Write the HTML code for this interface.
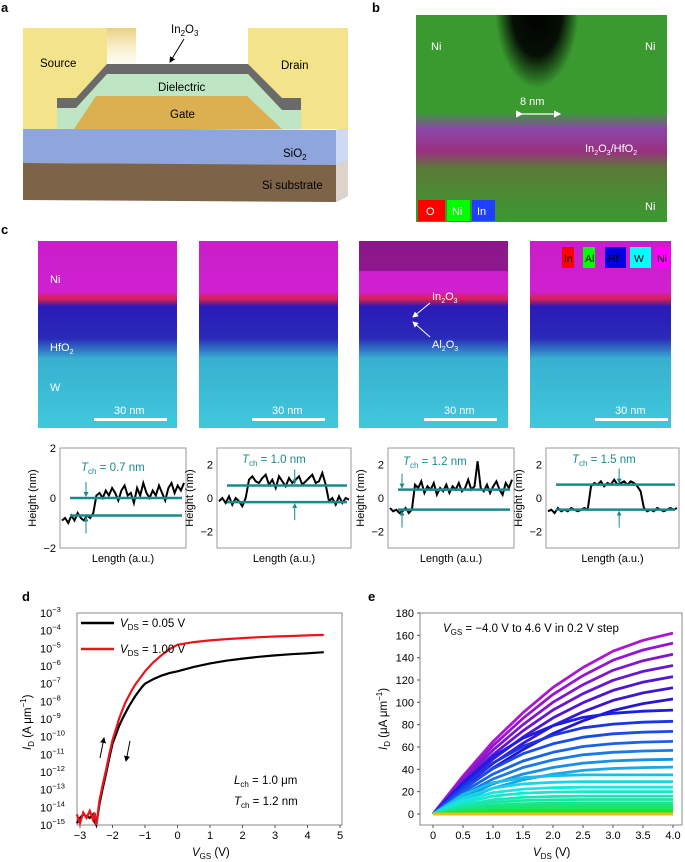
<!DOCTYPE html>
<html><head><meta charset="utf-8">
<style>
html,body{margin:0;padding:0;background:#fff;}
svg{display:block;font-family:"Liberation Sans",Arial,sans-serif;}
.pl{font-weight:bold;font-size:13px;fill:#000;}
.t{font-size:11.5px;fill:#000;}
.w{font-size:11px;fill:#fff;}
.tk{font-size:11px;fill:#000;}
</style></head>
<body>
<svg id="fig" width="685" height="862" viewBox="0 0 685 862" xmlns="http://www.w3.org/2000/svg">
<defs>
<linearGradient id="gC" x1="0" y1="0" x2="0" y2="1">
<stop offset="0" stop-color="#c81ec8"/><stop offset="0.27" stop-color="#d020d0"/><stop offset="0.31" stop-color="#d82050"/>
<stop offset="0.35" stop-color="#2a1ab8"/><stop offset="0.52" stop-color="#2a2ab8"/><stop offset="0.63" stop-color="#38b0d0"/><stop offset="1" stop-color="#40c8dc"/>
</linearGradient>
<linearGradient id="gB" x1="0" y1="0" x2="0" y2="1">
<stop offset="0" stop-color="#3a9a30"/><stop offset="0.47" stop-color="#3a9a30"/><stop offset="0.55" stop-color="#8a48a8"/>
<stop offset="0.66" stop-color="#9a3080"/><stop offset="0.74" stop-color="#5a7a38"/><stop offset="1" stop-color="#3a9a30"/>
</linearGradient>
<radialGradient id="gDark" cx="0.5" cy="0.3" r="0.5">
<stop offset="0" stop-color="#000"/><stop offset="0.6" stop-color="#000" stop-opacity="0.9"/><stop offset="1" stop-color="#000" stop-opacity="0"/>
</radialGradient>
<clipPath id="clipB"><rect x="416" y="15" width="251" height="207"/></clipPath>
<linearGradient id="gStrip" x1="0" y1="0" x2="0" y2="1"><stop offset="0" stop-color="#e8d080"/><stop offset="1" stop-color="#fff8d8" stop-opacity="0.3"/></linearGradient>
<marker id="ah" markerWidth="6" markerHeight="6" refX="5" refY="3" orient="auto"><path d="M0,0 L6,3 L0,6 z" fill="#000"/></marker>
<marker id="ahw" markerWidth="6" markerHeight="6" refX="5" refY="3" orient="auto"><path d="M0,0 L6,3 L0,6 z" fill="#fff"/></marker>
<marker id="aht" markerWidth="5" markerHeight="5" refX="4" refY="2.5" orient="auto"><path d="M0,0 L5,2.5 L0,5 z" fill="#1a8a8a"/></marker>
</defs>

<text class="pl" x="1" y="12">a</text>
<text class="pl" x="372" y="12">b</text>
<text class="pl" x="1" y="234">c</text>
<text class="pl" x="22" y="601">d</text>
<text class="pl" x="368" y="601">e</text>

<g>
<polygon points="23,200 336,202 348,196 348,164 336,164 23,163" fill="#7d6348"/>
<polygon points="336,164 348,158 348,196 336,202" fill="#dcd4cc"/>
<polygon points="23,128 336,130 348,124 348,160 336,165 23,163" fill="#8ea6dc"/>
<polygon points="336,130 348,124 348,160 336,165" fill="#cfdaf2"/>
<rect x="23" y="28" width="84" height="101" fill="#f3e38a"/>
<rect x="107" y="28" width="29" height="38" fill="url(#gStrip)"/>
<rect x="248" y="28" width="100" height="101" fill="#f3e38a"/>
<polygon points="57,108 57,129 301,129 301,110 282,110 248,74 107,74 76,108" fill="#bfe6c4"/>
<polygon points="96,96 247,96 282,129 74,129" fill="#dcb050"/>
<polygon points="57,98 76,98 107,64 248,64 282,98 301,98 301,110 282,110 248,74 107,74 76,108 57,108" fill="#6a6a6a"/>
<text class="t" x="40" y="67">Source</text>
<text class="t" x="281" y="69">Drain</text>
<text class="t" x="158" y="91">Dielectric</text>
<text class="t" x="170" y="118">Gate</text>
<text class="t" x="283" y="157">SiO<tspan font-size="8" dy="3">2</tspan></text>
<text class="t" x="262" y="189">Si substrate</text>
<text class="t" x="171" y="33">In<tspan font-size="8" dy="3">2</tspan><tspan dy="-3">O</tspan><tspan font-size="8" dy="3">3</tspan></text>
<line x1="184" y1="39" x2="170" y2="62" stroke="#000" stroke-width="1" marker-end="url(#ah)"/>
</g>

<g>
<rect x="416" y="15" width="251" height="207" fill="url(#gB)"/>
<g clip-path="url(#clipB)">
<ellipse cx="537" cy="40" rx="42" ry="80" fill="url(#gDark)"/>
</g>
<text class="w" x="431" y="50">Ni</text><text class="w" x="645" y="50">Ni</text><text class="w" x="645" y="210">Ni</text>
<text class="w" x="520" y="105">8 nm</text>
<line x1="522" y1="114" x2="560" y2="114" stroke="#fff" stroke-width="1.2" marker-end="url(#ahw)" marker-start="url(#ahw)"/>
<text class="w" x="585" y="152" font-size="10.5">In<tspan font-size="7" dy="3">2</tspan><tspan dy="-3">O</tspan><tspan font-size="7" dy="3">3</tspan><tspan dy="-3">/HfO</tspan><tspan font-size="7" dy="3">2</tspan></text>
<rect x="418" y="200" width="27" height="21" fill="#f00"/>
<rect x="447" y="200" width="23" height="21" fill="#0f0"/>
<rect x="472" y="200" width="23" height="21" fill="#2040ff"/>
<text class="w" x="426" y="215">O</text><text class="w" x="452" y="215">Ni</text><text class="w" x="477" y="215">In</text>
</g>

<g>
<rect x="38" y="241" width="139" height="187" fill="url(#gC)"/>
<rect x="199" y="241" width="139" height="187" fill="url(#gC)"/>
<rect x="359" y="241" width="149" height="187" fill="url(#gC)"/>
<rect x="359" y="241" width="149" height="30" fill="#401040" opacity="0.45"/>
<rect x="530" y="241" width="141" height="187" fill="url(#gC)"/>
<text class="w" x="50" y="283">Ni</text>
<text class="w" x="50" y="351">HfO<tspan font-size="7" dy="3">2</tspan></text>
<text class="w" x="50" y="391">W</text>
<text class="w" x="432" y="300">In<tspan font-size="7" dy="3">2</tspan><tspan dy="-3">O</tspan><tspan font-size="7" dy="3">3</tspan></text>
<line x1="430" y1="303" x2="413" y2="317" stroke="#fff" marker-end="url(#ahw)"/>
<text class="w" x="432" y="348">Al<tspan font-size="7" dy="3">2</tspan><tspan dy="-3">O</tspan><tspan font-size="7" dy="3">3</tspan></text>
<line x1="430" y1="337" x2="413" y2="322" stroke="#fff" marker-end="url(#ahw)"/>
<g font-size="10.5">
<text class="w" x="114" y="414">30 nm</text><text class="w" x="272" y="414">30 nm</text>
<text class="w" x="444" y="414">30 nm</text><text class="w" x="615" y="414">30 nm</text>
</g>
<rect x="94" y="418" width="73" height="3" fill="#fff"/><rect x="252" y="418" width="73" height="3" fill="#fff"/>
<rect x="424" y="418" width="73" height="3" fill="#fff"/><rect x="595" y="418" width="73" height="3" fill="#fff"/>
<rect x="562" y="247" width="12" height="21" fill="#f00"/><rect x="583" y="247" width="12" height="21" fill="#0f0"/>
<rect x="605" y="247" width="21" height="21" fill="#0000e0"/><rect x="630" y="247" width="21" height="21" fill="#0ff"/>
<rect x="655" y="247" width="15" height="21" fill="#f0f"/>
<g font-size="10.5"><text x="564" y="262">In</text><text x="585" y="262">Al</text><text x="608" y="262">Hf</text><text x="634" y="262">W</text><text x="657" y="262">Ni</text></g>
</g>

<g id="afm"></g>
<g id="chartD"></g>
<g id="chartE"></g>
</svg>

<script>
const afmP1 = [-0.9,-0.8,-1.0,-0.7,-0.9,-0.6,-0.8,-0.9,-0.7,-0.8,-0.6,0.1,0.2,0.0,0.3,0.1,0.4,0.2,-0.1,0.3,0.5,0.1,0.2,-0.2,0.4,0.1,0.6,0.2,0.0,0.3,0.1,0.5,0.2,-0.1,0.4,0.6,0.2,0.5,0.3,0.6];
const afmP2 = [-0.2,0.0,-0.3,0.1,-0.4,0.0,-0.2,-0.5,0.0,1.1,1.3,1.0,0.9,1.2,1.4,0.8,1.1,0.6,1.3,1.0,0.7,1.2,0.9,1.1,1.3,0.8,1.0,1.2,1.4,0.9,1.0,1.5,0.8,-0.2,0.0,-0.4,0.1,-0.3,0.0,-0.1];
const afmP3 = [-0.6,-0.8,-0.7,-0.9,-0.8,-0.6,-0.9,-0.7,0.8,0.6,1.0,0.3,0.7,0.5,0.9,0.2,0.6,0.4,0.8,0.3,0.7,0.5,0.9,0.4,0.6,1.1,0.5,0.7,2.2,0.6,0.4,0.8,0.3,0.7,1.0,0.5,0.2,0.9,0.6,1.1];
const afmP4 = [-0.8,-0.7,-0.9,-0.6,-0.8,-0.7,-0.8,-0.6,-0.7,-0.8,-0.7,-0.6,-0.7,0.7,0.9,0.8,1.0,0.7,0.9,0.8,1.1,0.8,0.9,1.0,0.8,1.0,0.9,0.7,0.4,-0.6,-0.8,-0.7,-0.8,-0.6,-0.7,-0.8,-0.7,-0.6,-0.7,-0.6];
const afmUpper = [0, 0.75, 0.5, 0.8];
const afmLower = [-0.7, -0.25, -0.7, -0.7];
const afmTch = ["0.7", "1.0", "1.2", "1.5"];
const afmTicks1 = [-2, 0, 2];
const afmTicks2 = [-2, 0, 2];

const dVgs = [-3.1,-3.0,-2.9,-2.8,-2.7,-2.6,-2.55,-2.5,-2.4,-2.3,-2.2,-2.1,-2.0,-1.9,-1.8,-1.7,-1.6,-1.5,-1.4,-1.3,-1.2,-1.1,-1.0,-0.75,-0.5,-0.25,0,0.5,1,1.5,2,2.5,3,3.5,4,4.5];
const dBlackLog = [-14.9,-14.6,-14.4,-14.5,-14.6,-14.4,-14.8,-15.0,-13.8,-12.9,-12.1,-11.2,-10.4,-9.9,-9.4,-9.0,-8.65,-8.3,-8.0,-7.7,-7.45,-7.2,-7.0,-6.75,-6.55,-6.4,-6.3,-6.05,-5.85,-5.7,-5.58,-5.48,-5.4,-5.33,-5.28,-5.22];
const dRedLog = [-14.4,-14.9,-14.3,-14.6,-14.2,-14.7,-14.3,-15.0,-13.6,-12.7,-11.9,-11.0,-10.2,-9.6,-9.0,-8.5,-8.05,-7.7,-7.35,-7.05,-6.8,-6.55,-6.3,-5.8,-5.4,-5.05,-4.8,-4.65,-4.55,-4.48,-4.42,-4.37,-4.33,-4.3,-4.27,-4.24];
const dXTicks = [-3,-2,-1,0,1,2,3,4,5];
const dYTicks = [-3,-4,-5,-6,-7,-8,-9,-10,-11,-12,-13,-14,-15];

const eEndValues = [0,0,0,0,0,0,0,0,0,0,0,0,0,0,0,0.2,0.5,1,2,3,4,6,8,10,13,16,20,24,29,35,42,49,57,65,74,83,93,103,113,123,133,143,153,162];
const eVds = [0,0.5,1,1.5,2,2.5,3,3.5,4];
const eShapeHigh = [0,0.21,0.40,0.56,0.70,0.81,0.90,0.96,1.0];
const eShapeMid = [0,0.30,0.55,0.73,0.85,0.93,0.97,0.99,1.0];
const eShapeLow = [0,0.50,0.80,0.93,0.98,1.0,1.0,1.0,1.0];
const eXTicks = [0,0.5,1.0,1.5,2.0,2.5,3.0,3.5,4.0];
const eYTicks = [0,20,40,60,80,100,120,140,160,180];

const NS = "http://www.w3.org/2000/svg";
function mk(tag, parent) { const e = document.createElementNS(NS, tag); parent.appendChild(e); return e; }
function sub(txt, parent, x, y, main, s, rest, cls, italic) {
  const t = mk('text', parent); t.setAttribute('x', x); t.setAttribute('y', y);
  t.setAttribute('font-size', '11.5');
  const a = document.createElementNS(NS, 'tspan'); a.textContent = main; if (italic) a.setAttribute('font-style', 'italic'); t.appendChild(a);
  const b = document.createElementNS(NS, 'tspan'); b.textContent = s; b.setAttribute('font-size', '8'); b.setAttribute('dy', '3'); t.appendChild(b);
  const c = document.createElementNS(NS, 'tspan'); c.textContent = rest; c.setAttribute('dy', '-3'); t.appendChild(c);
  return t;
}

(function(){
  const g = document.getElementById('afm');
  const plots = [afmP1, afmP2, afmP3, afmP4];
  const boxX = [60, 217, 388, 546], boxW = [126, 134, 126, 133];
  const ranges = [2, 3, 3, 3];
  const tickSets = [afmTicks1, afmTicks2, afmTicks2, afmTicks2];
  const top = 448, h = 100, teal = "#1a8a8a";
  for (let k = 0; k < 4; k++) {
    const x0 = boxX[k], w = boxW[k], R = ranges[k];
    const yS = v => top + h/2 - v * (h/2) / R;
    const xS = i => x0 + 2 + i * (w - 4) / (plots[k].length - 1);
    const box = mk('rect', g);
    
    
    box.setAttribute('x', x0); box.setAttribute('y', top); box.setAttribute('width', w); box.setAttribute('height', h);
    box.setAttribute('fill', 'none'); box.setAttribute('stroke', '#999'); box.setAttribute('stroke-width', '1');
    tickSets[k].forEach(v => {
      const t = mk('text', g);
      
      
      t.setAttribute('x', x0 - 4); t.setAttribute('y', yS(v) + 4); t.setAttribute('text-anchor', 'end'); t.setAttribute('font-size', '11');
      t.textContent = v < 0 ? '\u2212' + Math.abs(v) : String(v);
    });
    const yl = mk('text', g);
    
    
    yl.setAttribute('transform', `translate(${x0 - 24},${top + h/2}) rotate(-90)`);
    yl.setAttribute('text-anchor', 'middle'); yl.setAttribute('font-size', '11'); yl.textContent = 'Height (nm)';
    const xl = mk('text', g);
    
    
    xl.setAttribute('x', x0 + w/2); xl.setAttribute('y', top + h + 14); xl.setAttribute('text-anchor', 'middle'); xl.setAttribute('font-size', '11');
    xl.textContent = 'Length (a.u.)';
    const pts = plots[k].map((v, i) => xS(i).toFixed(1) + ',' + yS(v).toFixed(1)).join(' ');
    const line = mk('polyline', g);
    
    
    line.setAttribute('points', pts); line.setAttribute('fill', 'none'); line.setAttribute('stroke', '#000'); line.setAttribute('stroke-width', '2');
    [afmUpper[k], afmLower[k]].forEach((v, j) => {
      const l = mk('line', g);
      
      
      l.setAttribute('x1', x0 + 10); l.setAttribute('x2', x0 + w - 4); l.setAttribute('y1', yS(v)); l.setAttribute('y2', yS(v));
      l.setAttribute('stroke', teal); l.setAttribute('stroke-width', '2.5');
    });
    const ax = x0 + (k === 0 ? 26 : (k === 3 ? w * 0.55 : (k === 2 ? 14 : w * 0.58)));
    const a1 = mk('line', g);
    
    
    a1.setAttribute('x1', ax); a1.setAttribute('x2', ax); a1.setAttribute('y1', yS(afmUpper[k]) - 16); a1.setAttribute('y2', yS(afmUpper[k]) - 2);
    a1.setAttribute('stroke', teal); a1.setAttribute('marker-end', 'url(#aht)');
    const a2 = mk('line', g);
    
    
    a2.setAttribute('x1', ax); a2.setAttribute('x2', ax); a2.setAttribute('y1', yS(afmLower[k]) + 18); a2.setAttribute('y2', yS(afmLower[k]) + 2);
    a2.setAttribute('stroke', teal); a2.setAttribute('marker-end', 'url(#aht)');
    const lx = [81, 242, 403, 572][k], ly = [471, 463, 465, 463][k];
    const tl = sub(null, g, lx, ly, 'T', 'ch', ' = ' + afmTch[k] + ' nm', null, true);
    tl.setAttribute('fill', teal);
    
    
  }
})();

(function(){
  const g = document.getElementById('chartD');
  const L = 77, R = 342, T = 613, B = 825;
  const xD = v => 80 + (v + 3) * 32.5;
  const yD = lg => T + (-3 - lg) * (B - T) / 12;
  const fr = mk('rect', g);
  
  
  fr.setAttribute('x', L); fr.setAttribute('y', T); fr.setAttribute('width', R - L); fr.setAttribute('height', B - T);
  fr.setAttribute('fill', 'none'); fr.setAttribute('stroke', '#888');
  dXTicks.forEach(v => {
    const tk = mk('line', g);
    
    
    tk.setAttribute('x1', xD(v)); tk.setAttribute('x2', xD(v)); tk.setAttribute('y1', B); tk.setAttribute('y2', B + 3); tk.setAttribute('stroke', '#555');
    const t = mk('text', g);
    
    
    t.setAttribute('x', xD(v)); t.setAttribute('y', B + 14); t.setAttribute('text-anchor', 'middle'); t.setAttribute('class', 'tk');
    t.textContent = v < 0 ? '\u2212' + Math.abs(v) : String(v);
  });
  dYTicks.forEach(v => {
    const t = mk('text', g);
    
    
    t.setAttribute('x', 40); t.setAttribute('y', yD(v) + 4); t.setAttribute('font-size', '11');
    t.textContent = '10';
    const s = document.createElementNS(NS, 'tspan'); s.setAttribute('font-size', '7.5'); s.setAttribute('dy', '-5');
    s.textContent = '\u2212' + Math.abs(v); t.appendChild(s);
  });
  function curve(arr, color, name) {
    const p = mk('polyline', g);
    
    
    p.setAttribute('points', dVgs.map((v, i) => xD(v).toFixed(1) + ',' + Math.min(B, yD(arr[i])).toFixed(1)).join(' '));
    p.setAttribute('fill', 'none'); p.setAttribute('stroke', color); p.setAttribute('stroke-width', '2.2');
  }
  curve(dBlackLog, '#000', 'series-vds-0.05');
  curve(dRedLog, '#e8161a', 'series-vds-1.00');
  [['#000', 623, '0.05'], ['#e8161a', 649, '1.00']].forEach(([c, y, v]) => {
    const l = mk('line', g);
    
    
    l.setAttribute('x1', 81); l.setAttribute('x2', 114); l.setAttribute('y1', y); l.setAttribute('y2', y);
    l.setAttribute('stroke', c); l.setAttribute('stroke-width', '2.5');
    const t = sub(null, g, 120, y + 4, 'V', 'DS', ' = ' + v + ' V', null, true);
    
    
  });
  const a1 = mk('line', g);
  
  
  a1.setAttribute('x1', 100); a1.setAttribute('y1', 758); a1.setAttribute('x2', 104); a1.setAttribute('y2', 738);
  a1.setAttribute('stroke', '#000'); a1.setAttribute('marker-end', 'url(#ah)');
  const a2 = mk('line', g);
  
  
  a2.setAttribute('x1', 130); a2.setAttribute('y1', 741); a2.setAttribute('x2', 126); a2.setAttribute('y2', 761);
  a2.setAttribute('stroke', '#000'); a2.setAttribute('marker-end', 'url(#ah)');
  const t1 = sub(null, g, 234, 784, 'L', 'ch', ' = 1.0 \u03bcm', null, true);
  
  
  const t2 = sub(null, g, 234, 805, 'T', 'ch', ' = 1.2 nm', null, true);
  
  
  const xt = sub(null, g, 192, 856, 'V', 'GS', ' (V)', null, true);
  
  
  const yt = mk('text', g);
  
  
  yt.setAttribute('transform', 'translate(31,750) rotate(-90)'); yt.setAttribute('font-size', '11.5');
  yt.innerHTML = '<tspan font-style="italic">I</tspan><tspan font-size="8" dy="3">D</tspan><tspan dy="-3"> (A \u03bcm</tspan><tspan font-size="8" dy="-5">\u22121</tspan><tspan dy="5">)</tspan>';
})();

(function(){
  const g = document.getElementById('chartE');
  const L = 420, R = 682, T = 613, B = 825;
  const xE = v => 433 + v * 60;
  const yE = v => 814 - v * (814 - 613) / 180;
  const fr = mk('rect', g);
  
  
  fr.setAttribute('x', L); fr.setAttribute('y', T); fr.setAttribute('width', R - L); fr.setAttribute('height', B - T);
  fr.setAttribute('fill', 'none'); fr.setAttribute('stroke', '#888');
  eXTicks.forEach(v => {
    const tk = mk('line', g);
    
    
    tk.setAttribute('x1', xE(v)); tk.setAttribute('x2', xE(v)); tk.setAttribute('y1', B); tk.setAttribute('y2', B + 3); tk.setAttribute('stroke', '#555');
    const t = mk('text', g);
    
    
    t.setAttribute('x', xE(v)); t.setAttribute('y', B + 14); t.setAttribute('text-anchor', 'middle'); t.setAttribute('class', 'tk');
    t.textContent = v === 0 ? '0' : v.toFixed(1);
  });
  eYTicks.forEach(v => {
    const tk = mk('line', g);
    
    
    tk.setAttribute('x1', L - 3); tk.setAttribute('x2', L); tk.setAttribute('y1', yE(v)); tk.setAttribute('y2', yE(v)); tk.setAttribute('stroke', '#555');
    const t = mk('text', g);
    
    
    t.setAttribute('x', L - 6); t.setAttribute('y', yE(v) + 4); t.setAttribute('text-anchor', 'end'); t.setAttribute('class', 'tk');
    t.textContent = String(v);
  });
  const n = eEndValues.length;
  for (let i = n - 1; i >= 0; i--) {
    const E = eEndValues[i];
    const shape = E >= 100 ? eShapeHigh : (E >= 40 ? eShapeMid : eShapeLow);
    const f = i / (n - 1);
    const hue = 48 + 240 * Math.pow(f, 1.3);
    const p = mk('polyline', g);
    
    
    p.setAttribute('points', eVds.map((v, j) => xE(v).toFixed(1) + ',' + yE(E * shape[j]).toFixed(1)).join(' '));
    p.setAttribute('fill', 'none'); p.setAttribute('stroke', `hsl(${hue.toFixed(0)},80%,${hue > 240 ? 45 : 50}%)`);
    p.setAttribute('stroke-width', '2.8'); p.setAttribute('stroke-linejoin', 'round');
  }
  const an = mk('text', g);
  
  
  an.setAttribute('x', 443); an.setAttribute('y', 632); an.setAttribute('font-size', '11.5');
  an.innerHTML = '<tspan font-style="italic">V</tspan><tspan font-size="8" dy="3">GS</tspan><tspan dy="-3"> = \u22124.0 V to 4.6 V in 0.2 V step</tspan>';
  const xt = sub(null, g, 533, 856, 'V', 'DS', ' (V)', null, true);
  
  
  const yt = mk('text', g);
  
  
  yt.setAttribute('transform', 'translate(387,750) rotate(-90)'); yt.setAttribute('font-size', '11.5');
  yt.innerHTML = '<tspan font-style="italic">I</tspan><tspan font-size="8" dy="3">D</tspan><tspan dy="-3"> (\u03bcA \u03bcm</tspan><tspan font-size="8" dy="-5">\u22121</tspan><tspan dy="5">)</tspan>';
})();
</script>
</body></html>
